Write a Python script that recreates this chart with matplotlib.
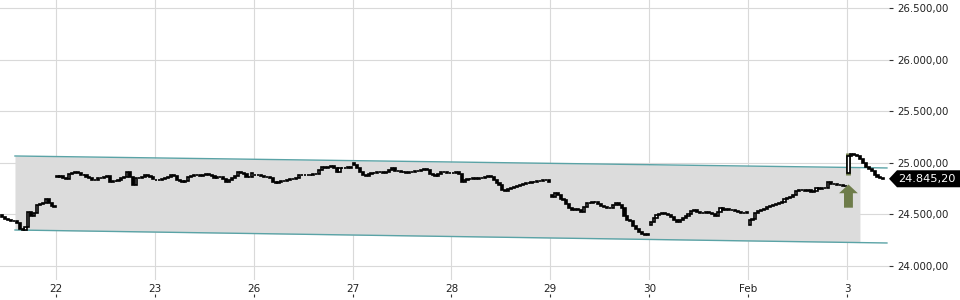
import numpy as np
import matplotlib.pyplot as plt
from matplotlib import transforms
from matplotlib.patches import Polygon, FancyArrow

# ---- data -------------------------------------------------------------
day_labels = ["22", "23", "26", "27", "28", "29", "30", "Feb", "3"]
slots_per_day = 34          # 15 min candles per session
first_slot = [15, 0, 0, 0, 0, 0, 0, 0, 0, 0]

session_open = [24495, 24870, 24835, 24885, 24995, 24905, 24690, 24400, 24400, 24905]
session_close = [
    # 21 (partial)
    [24475, 24455, 24446, 24436, 24436, 24417, 24359, 24349, 24378, 24523,
     24485, 24514, 24591, 24601, 24610, 24649, 24610, 24581, 24572],
    # 22
    [24862, 24872, 24853, 24843, 24891, 24901, 24911, 24901, 24882, 24882,
     24862, 24853, 24833, 24833, 24853, 24853, 24862, 24872, 24814, 24824,
     24824, 24833, 24853, 24862, 24911, 24862, 24785, 24853, 24853, 24862,
     24882, 24872, 24862, 24843],
    # 23
    [24833, 24833, 24843, 24853, 24862, 24882, 24872, 24833, 24824, 24814,
     24824, 24862, 24872, 24882, 24882, 24872, 24882, 24891, 24882, 24872,
     24853, 24862, 24862, 24843, 24814, 24833, 24853, 24872, 24911, 24901,
     24891, 24862, 24862, 24901],
    # 26
    [24882, 24882, 24872, 24862, 24862, 24853, 24814, 24804, 24814, 24824,
     24824, 24833, 24843, 24843, 24853, 24882, 24882, 24882, 24882, 24882,
     24891, 24891, 24930, 24959, 24950, 24959, 24969, 24950, 24911, 24950,
     24950, 24950, 24959, 24950],
    # 27
    [24979, 24950, 24911, 24882, 24872, 24891, 24901, 24901, 24911, 24911,
     24901, 24911, 24930, 24950, 24920, 24920, 24911, 24911, 24901, 24911,
     24911, 24920, 24920, 24930, 24940, 24930, 24891, 24882, 24872, 24891,
     24911, 24911, 24901, 24901],
    # 28
    [24901, 24911, 24891, 24814, 24833, 24843, 24843, 24853, 24843, 24853,
     24853, 24862, 24872, 24862, 24833, 24804, 24785, 24736, 24727, 24746,
     24756, 24765, 24775, 24785, 24795, 24804, 24804, 24814, 24814, 24824,
     24824, 24833, 24833, 24814],
    # 29
    [24669, 24707, 24688, 24649, 24640, 24601, 24562, 24543, 24552, 24543,
     24523, 24572, 24610, 24610, 24620, 24620, 24601, 24581, 24572, 24562,
     24562, 24591, 24610, 24591, 24562, 24485, 24446, 24436, 24388, 24359,
     24330, 24310, 24300, 24310],
    # 30
    [24426, 24465, 24494, 24504, 24514, 24504, 24494, 24475, 24446, 24426,
     24446, 24465, 24485, 24504, 24533, 24543, 24523, 24514, 24514, 24523,
     24514, 24504, 24485, 24523, 24562, 24543, 24552, 24543, 24543, 24533,
     24523, 24514, 24514, 24523],
    # Feb 2
    [24446, 24455, 24514, 24533, 24543, 24552, 24572, 24581, 24591, 24601,
     24610, 24620, 24649, 24659, 24669, 24688, 24727, 24736, 24736, 24727,
     24736, 24717, 24727, 24756, 24746, 24756, 24756, 24814, 24795, 24795,
     24785, 24785, 24775, 24775],
    # 3 (partial)
    [25070, 25085, 25076, 25066, 25037, 24998, 24959, 24940, 24920, 24882,
     24862, 24853, 24845.20],
]

# regression channel (day units, prices)
channel_x = [0.585, 9.404]
channel_upper = [25066, 24950]
channel_lower = [24349, 24223]
channel_fill_end = 9.131

# buy signal on the first candle of Feb 3
signal_low, signal_high = 24880, 25095
arrow_bottom, arrow_top = 24565, 24790

y_ticks = [24000, 24500, 25000, 25500, 26000, 26500]


def de_fmt(v):
    return f"{v:,.2f}".replace(",", "X").replace(".", ",").replace("X", ".")


# ---- figure -----------------------------------------------------------
fig = plt.figure(figsize=(9.6, 3.0), dpi=100)
ax = fig.add_axes([0, 20 / 300, 889 / 960, 280 / 300])

px_per_day = 98.875
ax.set_xlim(1 - 56 / px_per_day, 1 + (889 - 56) / px_per_day)
ax.set_ylim(24000 - 14 * 2500 / 258, 24000 + 266 * 2500 / 258)

# channel
xf = np.array([channel_x[0], channel_fill_end])
ax.fill_between(xf, np.interp(xf, channel_x, channel_lower),
                np.interp(xf, channel_x, channel_upper),
                color="#dcdcdc", lw=0, zorder=1)
ax.plot(channel_x, channel_upper, color="#5aa3a6", lw=1, zorder=2)
ax.plot(channel_x, channel_lower, color="#5aa3a6", lw=1, zorder=2)

# candles
w = 0.72 / slots_per_day
for d, (o0, cl, s0) in enumerate(zip(session_open, session_close, first_slot)):
    cl = np.array(cl, dtype=float)
    op = np.concatenate([[o0], cl[:-1]])
    x = d + (s0 + np.arange(len(cl)) + 0.5) / slots_per_day
    up = cl >= op
    if d == len(session_close) - 1:
        ax.vlines(x[0], signal_low, signal_high, color="#6e7c4a", lw=3.5, zorder=3)
    ax.bar(x[up], cl[up] - op[up], bottom=op[up], width=w,
           facecolor="white", edgecolor="black", lw=1.2, zorder=4)
    ax.bar(x[~up], cl[~up] - op[~up], bottom=op[~up], width=w,
           facecolor="black", edgecolor="black", lw=1.2, zorder=4)

# signal arrow
sig_x = len(session_close) - 1 + 0.5 / slots_per_day
ax.add_patch(FancyArrow(sig_x, arrow_bottom, 0, arrow_top - arrow_bottom,
                        width=0.09, head_width=0.19, head_length=85,
                        length_includes_head=True, color="#6e7c4a", lw=0, zorder=5))

# grid and axes
ax.set_xticks(np.arange(1, len(day_labels) + 1))
ax.set_xticklabels(day_labels)
ax.set_yticks(y_ticks)
ax.set_yticklabels([de_fmt(v) for v in y_ticks])
ax.grid(True, color="#d9d9d9", lw=0.8, zorder=0)
ax.set_axisbelow(True)
for s in ax.spines.values():
    s.set_visible(False)
ax.yaxis.tick_right()
ax.tick_params(axis="y", length=3, width=0.8, color="#333333", pad=3,
               labelsize=7.4, labelcolor="#222222")
ax.tick_params(axis="x", length=0, pad=3, labelsize=7.5, labelcolor="#222222")

sec = ax.secondary_xaxis(-14 / 280)
sec.set_xticks(np.arange(1, len(day_labels) + 1))
sec.set_xticklabels([])
sec.tick_params(length=2.2, width=0.8, color="#333333")
sec.spines["bottom"].set_visible(False)

# last price tag
last = session_close[-1][-1]
tag_tr = fig.dpi_scale_trans + transforms.ScaledTranslation(
    1.0, last, transforms.blended_transform_factory(ax.transAxes, ax.transData))
ax.add_patch(Polygon([(0.0, 0.0), (0.08, 0.085), (0.72, 0.085), (0.72, -0.085),
                      (0.08, -0.085)], closed=True, transform=tag_tr,
                     facecolor="black", edgecolor="none", clip_on=False, zorder=6))
ax.text(0.375, -0.005, de_fmt(last), transform=tag_tr, color="white",
        fontsize=8.2, ha="center", va="center", clip_on=False, zorder=7)

fig.savefig("out.png", dpi=100)
